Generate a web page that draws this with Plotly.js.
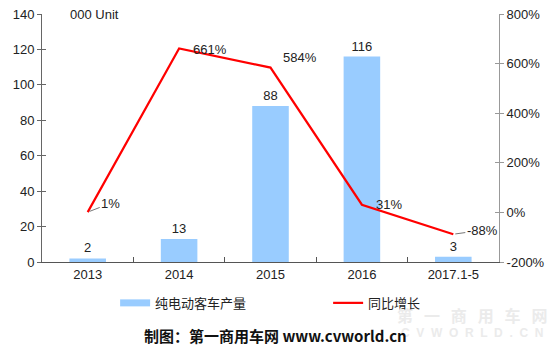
<!DOCTYPE html>
<html><head><meta charset="utf-8">
<script src="https://cdn.plot.ly/plotly-3.0.1.min.js"></script>
<style>body{margin:0;background:#fff}#c{width:559px;height:352px}</style>
</head><body><div id="c"></div>
<script>
const categories = ['2013','2014','2015','2016','2017.1-5'];
const production = [2, 13, 88, 116, 3];
const growth = [1, 661, 584, 31, -88];
const growthLabels = ['1%','661%','584%','31%','-88%'];
const leftTicks = [0,20,40,60,80,100,120,140];
const rightTicks = [-200,0,200,400,600,800];

const font = {family:'"Liberation Sans", Arial, sans-serif', size:13, color:'#222'};
const cjk = '"Noto Sans CJK SC", "Liberation Sans", sans-serif';

const traces = [
  {type:'bar', x:categories, y:production, name:'纯电动客车产量', marker:{color:'#99CCFF'},
   width:0.4, text:production.map(String), textposition:'outside', cliponaxis:false, showlegend:false,
   textfont:{family:font.family,size:13,color:'#222'}},
  // legend-only swatch for the bars (wide bar symbol like the reference)
  {type:'scatter', mode:'lines', x:[categories[0]], y:[null], name:'纯电动客车产量',
   line:{color:'#99CCFF', width:7}, hoverinfo:'skip'},
  {type:'scatter', mode:'lines', x:categories, y:growth, yaxis:'y2', name:'同比增长',
   line:{color:'#FF0000', width:2.2}}
];

// category axes take annotation positions as category indices
// [ax, ay, arrow]
const labelOffset = [[23,-9,true],[31,1,false],[29,-10,false],[27,0,false],[29,-4,true]];
const annotations = growthLabels.map((t,i)=>{
  const o = labelOffset[i];
  const a = {x:categories.indexOf(categories[i]), y:growth[i], xref:'x', yref:'y2', text:t,
    font:{family:font.family,size:13,color:'#222'}};
  if (o[2]) {
    Object.assign(a, {showarrow:true, arrowhead:0, arrowwidth:1, arrowcolor:'#777', ax:o[0], ay:o[1], standoff:2});
  } else {
    Object.assign(a, {showarrow:false, xshift:o[0], yshift:-o[1]});
  }
  return a;
});
annotations.push(
  {xref:'paper', yref:'paper', x:0.057, y:1.0, text:'000 Unit', showarrow:false, xanchor:'left', yanchor:'middle',
   font:{family:font.family,size:13,color:'#222'}},
  {xref:'paper', yref:'paper', x:0.94, y:-0.212, text:'<b>第   一   商   用   车   网</b>', showarrow:false,
   xanchor:'center', yanchor:'middle', font:{family:cjk,size:16,color:'#ebebeb'}},
  {xref:'paper', yref:'paper', x:0.94, y:-0.285, text:'<b>C  V  W  O  R  L  D  .  C  N</b>', showarrow:false,
   xanchor:'center', yanchor:'middle', font:{family:'"Liberation Sans", Arial',size:12,color:'#ebebeb'}},
  {xref:'paper', yref:'paper', x:0.512, y:-0.298, text:'<b>制图：第一商用车网 www.cvworld.cn</b>', showarrow:false,
   xanchor:'center', yanchor:'middle', font:{family:cjk,size:15,color:'#111'}}
);

const layout = {
  width:559, height:352, paper_bgcolor:'#fff', plot_bgcolor:'#fff',
  margin:{l:42, r:60, t:14, b:90},
  font:font, showlegend:true, bargap:0.6,
  legend:{orientation:'h', x:0.16, y:-0.165, xanchor:'left', yanchor:'middle',
          font:{family:cjk,size:13,color:'#222'}, traceorder:'normal', entrywidth:168},
  xaxis:{type:'category', range:[-0.5,4.5], automargin:false, showline:true, linecolor:'#555', linewidth:1, ticks:'inside', ticklen:5,
         tickcolor:'#555', tickson:'boundaries', showgrid:false, zeroline:false},
  yaxis:{range:[0,140], tickvals:leftTicks, automargin:false, showline:true, linecolor:'#666', linewidth:1,
         ticks:'outside', ticklen:4, tickcolor:'#666', showgrid:false, zeroline:false},
  yaxis2:{range:[-200,800], tickvals:rightTicks, ticktext:rightTicks.map(v=>v+'%'), overlaying:'y', side:'right',
          automargin:false, showline:true, linecolor:'#999', linewidth:1, ticks:'outside', ticklen:4, tickcolor:'#999',
          showgrid:false, zeroline:false},
  yaxis3:{range:[0,140], tickvals:leftTicks, overlaying:'y', side:'left', showticklabels:false, automargin:false,
          ticks:'inside', ticklen:4, tickcolor:'#666', showline:false, showgrid:false, zeroline:false},
  yaxis4:{range:[-200,800], tickvals:rightTicks, overlaying:'y', side:'right', showticklabels:false, automargin:false,
          ticks:'inside', ticklen:4, tickcolor:'#999', showline:false, showgrid:false, zeroline:false},
  annotations:annotations
};
traces.push({type:'scatter', x:[categories[0]], y:[null], yaxis:'y3', showlegend:false, hoverinfo:'skip', mode:'markers'});
traces.push({type:'scatter', x:[categories[0]], y:[null], yaxis:'y4', showlegend:false, hoverinfo:'skip', mode:'markers'});
Plotly.newPlot('c', traces, layout, {displayModeBar:false, staticPlot:true});
</script></body></html>
